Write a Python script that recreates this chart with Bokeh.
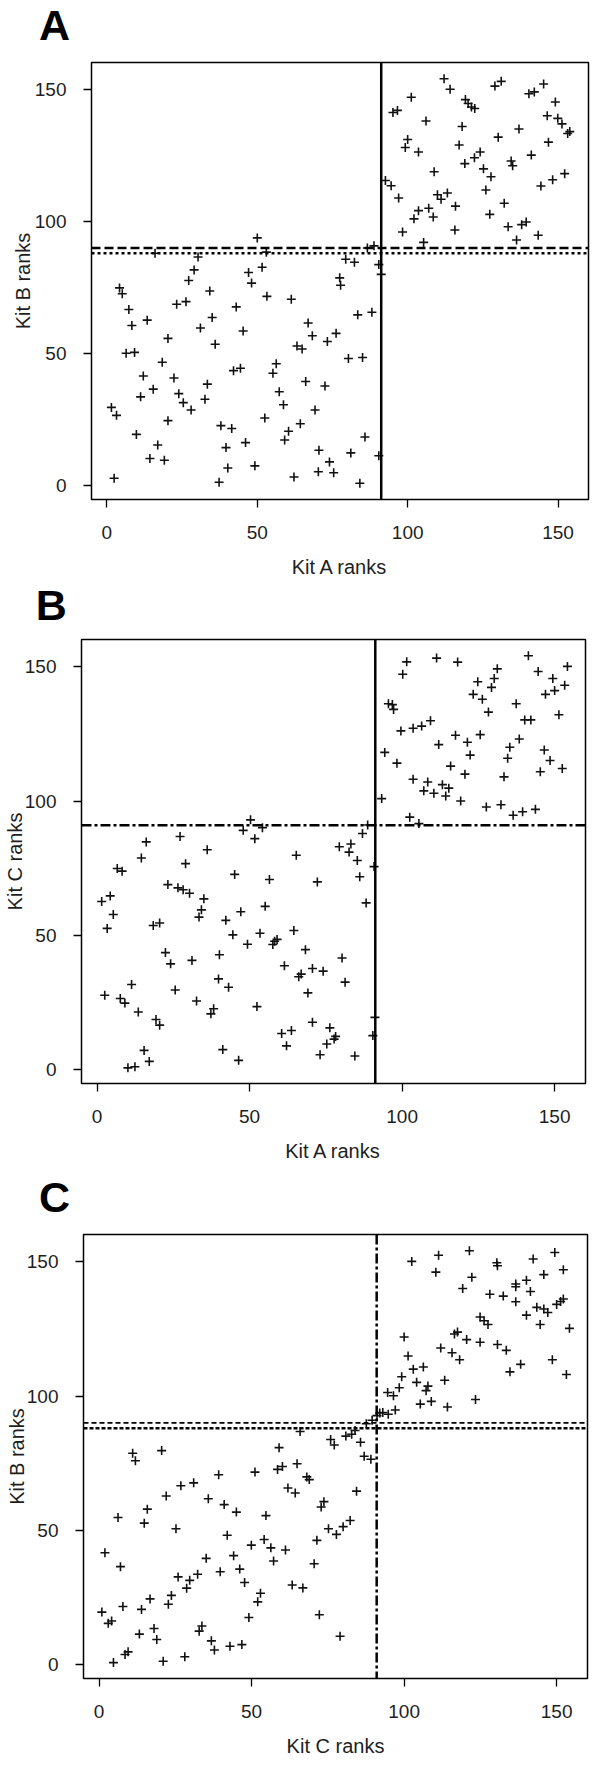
from bokeh.plotting import figure
from bokeh.models import Span, Label, FixedTicker
from bokeh.embed import file_html
from bokeh.resources import INLINE

FONT = "Liberation Sans"
TEXT = "#1e1e1e"
tick_values = [0, 50, 100, 150]
axis_range = (-5.12, 160.12)

# cut-off ranks
kitA_cut = 91.2
kitC_cut = 91.0
kitB_cut_high = 90.0
kitB_cut_low = 88.0

# ---- Panel A: Kit A ranks (x) vs Kit B ranks (y)
a_x = [1.5, 3.2, 2.4, 4.2, 5.1, 7.3, 8.3, 6.4, 9.2, 9.8,
       12.1, 11.2, 13.4, 15.4, 14.3, 16.9, 19.1, 16.0, 18.4, 20.3,
       22.3, 20.3, 23.9, 25.4, 23.2, 26.3, 27.2, 29.0, 30.3, 28.0,
       31.1, 32.6, 33.4, 34.2, 35.0, 36.0, 37.9, 37.3, 39.6, 40.2,
       41.5, 42.1, 44.4, 43.0, 45.3, 46.1, 47.1, 48.1, 49.2, 50.0,
       51.6, 53.0, 52.5, 53.2, 56.3, 55.2, 57.3, 58.7, 60.4, 59.1,
       61.3, 62.2, 63.2, 64.9, 64.3, 66.1, 66.9, 68.3, 69.2, 70.5,
       70.3, 72.5, 73.3, 74.0, 75.4, 76.2, 77.4, 77.7, 79.4, 82.3,
       80.3, 81.1, 83.4, 85.0, 84.1, 85.8, 88.1, 86.6, 88.8, 90.4,
       90.4, 91.2,
       92.6, 94.5, 95.1, 96.6, 97.0, 98.3, 99.2, 100.0, 101.2, 102.1,
       103.6, 103.6, 105.3, 106.1, 107.0, 108.5, 108.8, 109.9, 111.1, 113.2,
       112.1, 114.1, 115.9, 115.7, 117.1, 118.1, 119.0, 119.2, 120.1, 121.2,
       122.3, 122.2, 124.1, 125.2, 126.0, 127.7, 127.3, 129.0, 131.1, 130.1,
       132.1, 133.4, 134.4, 134.9, 136.2, 137.0, 137.9, 139.4, 140.3, 142.1,
       141.1, 143.4, 144.3, 145.2, 146.4, 146.8, 148.2, 149.1, 149.9, 151.3,
       152.2, 153.2, 153.9]
a_y = [29.7, 26.7, 2.9, 74.9, 72.7, 66.7, 60.7, 50.2, 50.5, 19.5,
       41.6, 33.7, 62.7, 36.6, 10.4, 15.5, 9.7, 88.0, 46.8, 55.8,
       40.8, 24.7, 34.9, 31.5, 68.7, 69.7, 77.7, 81.7, 86.6, 28.7,
       59.7, 32.8, 38.5, 73.7, 63.7, 53.6, 22.8, 1.4, 14.5, 6.8,
       21.7, 43.6, 44.5, 67.7, 58.6, 16.4, 80.7, 76.7, 7.6, 93.8,
       82.7, 88.4, 25.7, 71.7, 46.2, 42.6, 35.6, 30.7, 20.7, 17.4,
       70.6, 3.4, 52.9, 51.8, 23.5, 39.5, 61.6, 56.8, 28.7, 13.5,
       5.4, 37.8, 54.6, 9.1, 5.0, 57.7, 78.7, 75.9, 85.7, 84.6,
       48.2, 12.5, 64.7, 48.6, 1.0, 18.5, 65.7, 90.0, 90.8, 11.4,
       83.7, 80.0,
       115.5, 113.5, 141.2, 142.0, 108.9, 96.0, 128.0, 131.0, 147.0, 101.0,
       104.1, 126.3, 92.1, 138.0, 105.0, 101.7, 118.8, 110.1, 108.4, 110.8,
       154.0, 150.0, 105.8, 96.8, 128.9, 135.9, 121.9, 146.1, 144.6, 143.3,
       142.7, 124.1, 126.3, 119.9, 111.9, 116.9, 102.7, 151.2, 153.0, 131.9,
       106.9, 98.0, 122.9, 121.1, 93.0, 135.0, 98.8, 99.8, 148.3, 149.0,
       125.1, 94.8, 113.4, 152.0, 140.0, 130.0, 115.8, 145.2, 139.0, 136.9,
       118.1, 133.3, 134.0]

# ---- Panel B: Kit A ranks (x) vs Kit C ranks (y)
b_x = [1.5, 4.3, 5.3, 3.3, 2.5, 6.6, 8.2, 7.6, 9.1, 10.1,
       12.4, 11.3, 13.5, 14.5, 16.1, 15.4, 17.1, 18.4, 20.5, 19.3,
       20.5, 22.4, 24.1, 23.2, 25.6, 27.2, 26.5, 28.2, 30.3, 29.0,
       31.1, 32.6, 33.4, 34.2, 35.0, 36.1, 37.3, 38.2, 39.8, 40.1,
       41.2, 42.2, 43.1, 44.5, 45.1, 46.4, 47.1, 47.9, 49.3, 50.3,
       51.7, 54.2, 52.4, 53.4, 55.1, 56.5, 57.6, 58.2, 59.0, 60.5,
       61.4, 62.1, 63.7, 64.5, 65.3, 66.1, 66.9, 68.3, 69.1, 70.6,
       70.6, 72.2, 73.1, 74.1, 75.3, 76.3, 77.7, 78.2, 79.4, 80.3,
       81.3, 82.6, 83.2, 85.3, 86.1, 84.5, 87.0, 88.2, 88.7, 90.4,
       90.8, 91.1,
       93.3, 94.3, 95.5, 96.8, 97.2, 98.3, 99.6, 100.2, 101.5, 102.5,
       103.6, 103.6, 105.5, 106.4, 107.1, 108.4, 109.3, 110.4, 111.3, 112.0,
       113.2, 114.3, 115.3, 115.9, 117.5, 118.2, 119.2, 120.6, 121.4, 122.3,
       123.3, 124.8, 125.6, 126.3, 127.6, 128.3, 129.3, 130.2, 131.2, 132.4,
       133.4, 134.6, 135.3, 136.4, 137.4, 138.4, 139.5, 140.2, 141.4, 142.2,
       143.7, 144.6, 145.3, 146.6, 147.0, 148.5, 149.4, 150.0, 151.4, 152.5,
       153.3, 154.2]
b_y = [62.6, 64.7, 57.8, 52.6, 27.7, 74.9, 73.9, 26.5, 24.8, 0.7,
       1.1, 31.7, 21.5, 78.8, 84.8, 7.2, 3.1, 53.7, 54.6, 18.7,
       16.6, 43.6, 39.4, 68.9, 29.7, 86.8, 67.7, 67.0, 65.7, 76.7,
       40.7, 25.6, 56.8, 59.5, 63.6, 81.9, 20.8, 22.7, 33.8, 42.8,
       7.5, 55.6, 30.7, 50.2, 72.7, 3.5, 58.8, 89.1, 46.7, 93.0,
       86.0, 90.1, 23.5, 50.8, 60.8, 70.8, 46.6, 47.8, 48.5, 13.5,
       38.7, 8.9, 14.6, 51.8, 79.8, 34.6, 35.6, 44.7, 28.6, 17.7,
       37.7, 69.9, 5.6, 36.7, 9.6, 15.6, 11.4, 12.4, 83.0, 41.6,
       32.6, 81.0, 84.0, 77.9, 71.8, 5.1, 87.9, 62.1, 91.1, 12.7,
       75.6, 19.5,
       100.9, 118.1, 136.2, 135.9, 134.1, 114.1, 126.1, 147.2, 151.8, 94.0,
       108.1, 127.1, 91.6, 127.9, 103.8, 107.1, 129.9, 102.9, 153.2, 121.0,
       106.1, 101.9, 104.8, 113.0, 124.5, 151.7, 100.0, 110.0, 121.9, 117.1,
       139.7, 144.4, 124.7, 137.9, 97.8, 133.1, 142.3, 145.6, 149.2, 98.6,
       109.0, 115.9, 120.0, 94.7, 136.2, 123.1, 96.0, 130.2, 154.1, 130.2,
       96.9, 148.2, 110.9, 119.0, 139.7, 115.1, 145.6, 141.1, 132.1, 112.1,
       143.1, 150.1]

# ---- Panel C: Kit C ranks (x) vs Kit B ranks (y)
c_x = [0.9, 1.9, 3.0, 4.1, 4.7, 6.2, 7.0, 7.8, 8.5, 9.5,
       11.0, 11.9, 13.2, 13.9, 14.8, 15.8, 16.7, 18.0, 18.9, 20.5,
       21.0, 22.0, 22.7, 23.7, 25.2, 25.9, 26.8, 28.1, 28.7, 29.7,
       31.0, 32.3, 32.8, 33.7, 35.1, 35.8, 36.8, 37.8, 39.2, 39.7,
       41.0, 42.0, 42.9, 44.1, 45.0, 46.1, 46.8, 47.7, 49.1, 49.9,
       51.1, 52.0, 52.9, 54.1, 54.7, 56.3, 57.2, 58.5, 59.0, 60.1,
       61.1, 61.9, 63.3, 64.3, 64.9, 65.9, 66.8, 68.1, 68.9, 70.5,
       71.4, 72.2, 72.8, 73.7, 75.2, 75.9, 77.1, 77.8, 79.0, 80.0,
       80.9, 82.3, 82.8, 83.9, 84.4, 85.7, 86.9, 87.6, 89.1, 89.5,
       91.1,
       92.0, 93.0, 94.8, 94.6, 96.5, 97.1, 98.4, 99.2, 100.0, 101.3,
       102.5, 103.0, 104.1, 105.3, 106.3, 107.2, 107.8, 108.9, 110.4, 111.3,
       112.0, 113.3, 114.2, 115.7, 116.5, 117.5, 118.2, 119.2, 120.5, 121.4,
       122.2, 123.4, 124.9, 124.9, 126.2, 127.5, 128.1, 130.4, 130.6, 130.6,
       132.5, 133.5, 134.7, 136.6, 136.6, 136.6, 138.2, 140.1, 140.1, 141.4,
       142.3, 143.5, 144.6, 145.8, 145.8, 147.1, 148.6, 149.4, 150.0, 151.3,
       152.2, 152.2, 153.2, 154.2]
c_y = [19.6, 41.7, 15.4, 16.3, 0.8, 54.8, 36.5, 21.7, 3.8, 4.8,
       78.7, 75.9, 11.4, 20.6, 52.7, 57.9, 24.5, 13.5, 9.4, 79.7,
       1.3, 62.8, 22.5, 25.8, 50.6, 32.7, 66.6, 3.0, 28.5, 31.4,
       67.7, 33.7, 12.5, 14.4, 39.6, 61.8, 8.9, 5.5, 70.7, 34.6,
       59.6, 48.2, 6.9, 40.6, 56.8, 35.6, 7.5, 30.6, 17.6, 44.5,
       71.7, 23.4, 26.6, 46.6, 55.5, 43.5, 38.6, 72.7, 80.8, 73.8,
       42.7, 65.8, 29.7, 63.9, 74.8, 86.8, 28.6, 69.9, 68.9, 37.6,
       46.3, 18.6, 58.7, 60.7, 50.6, 83.8, 81.8, 48.5, 10.6, 51.4,
       85.1, 53.7, 85.8, 87.2, 64.6, 82.8, 77.6, 89.7, 76.5, 91.0,
       92.7,
       93.7, 93.9, 93.2, 101.3, 100.1, 94.8, 103.1, 107.2, 122.0, 114.9,
       150.1, 110.0, 105.1, 97.0, 110.8, 102.0, 103.7, 98.0, 146.1, 152.4,
       117.9, 105.9, 95.9, 116.1, 123.1, 123.8, 113.5, 140.0, 121.0, 154.1,
       144.2, 98.7, 120.0, 129.4, 128.0, 126.6, 137.9, 149.6, 148.5, 119.2,
       137.2, 117.0, 109.0, 141.7, 140.7, 135.1, 111.8, 143.1, 130.1, 138.9,
       151.0, 133.0, 126.6, 145.2, 132.4, 131.1, 113.5, 153.4, 134.1, 135.2,
       136.1, 147.0, 108.0, 125.2]


def make_letter(letter, height, x, middle):
    """A strip holding the bold panel letter (x from left, vertical middle from bottom, px)."""
    p = figure(width=600, height=height, x_axis_location=None, y_axis_location=None,
               min_border=0, output_backend="svg", toolbar_location=None,
               background_fill_color="white", border_fill_color="white")
    p.grid.visible = False
    p.outline_line_color = None
    p.add_layout(Label(x=x, y=middle, x_units="screen", y_units="screen",
                       text=letter, text_font=FONT, text_font_size="43px",
                       text_font_style="bold", text_color="black",
                       text_baseline="middle", text_align="left"))
    return p


def make_panel(xs, ys, xlabel, ylabel, height, left, right, top, bottom, ylab_standoff):
    p = figure(width=600, height=height, x_range=axis_range, y_range=axis_range,
               min_border_left=left, min_border_right=right,
               min_border_top=top, min_border_bottom=bottom,
               output_backend="svg", toolbar_location=None,
               background_fill_color="white", border_fill_color="white")
    p.grid.visible = False
    p.outline_line_color = "black"
    p.outline_line_width = 1.5
    p.xaxis.axis_label = xlabel
    p.yaxis.axis_label = ylabel
    for ax in list(p.xaxis) + list(p.yaxis):
        ax.ticker = FixedTicker(ticks=tick_values)
        ax.axis_line_color = None
        ax.major_tick_in = 0
        ax.major_tick_out = 8
        ax.major_tick_line_width = 1.3
        ax.major_tick_line_color = "black"
        ax.minor_tick_line_color = None
        ax.major_label_text_font = FONT
        ax.major_label_text_font_size = "19px"
        ax.major_label_text_color = TEXT
        ax.axis_label_text_font = FONT
        ax.axis_label_text_font_size = "20px"
        ax.axis_label_text_font_style = "normal"
        ax.axis_label_text_color = TEXT
    p.xaxis.major_label_standoff = 18
    p.xaxis.axis_label_standoff = 14
    p.yaxis.major_label_standoff = 17
    p.yaxis.axis_label_standoff = ylab_standoff
    p.scatter(xs, ys, marker="cross", size=9, line_color="#111111", line_width=1.6)
    return p


la = make_letter("A", 50, 38.5, 25.5)
pa = make_panel(a_x, a_y, "Kit A ranks", "Kit B ranks", 530, 91, 12, 12, 80, -2)
pa.add_layout(Span(location=kitA_cut, dimension="height", line_color="black", line_width=2.5))
pa.add_layout(Span(location=kitB_cut_high, dimension="width", line_color="black", line_width=2.5, line_dash="9 4"))
pa.add_layout(Span(location=kitB_cut_low, dimension="width", line_color="black", line_width=2.5, line_dash="3 3"))

lb = make_letter("B", 50, 35.3, 25.5)
pb = make_panel(b_x, b_y, "Kit A ranks", "Kit C ranks", 542, 81, 15, 9, 89, -4)
pb.add_layout(Span(location=kitA_cut, dimension="height", line_color="black", line_width=2.5))
pb.add_layout(Span(location=kitC_cut, dimension="width", line_color="black", line_width=2.5, line_dash="10 3 3 3"))

lc = make_letter("C", 51, 38.4, 26.4)
pc = make_panel(c_x, c_y, "Kit C ranks", "Kit B ranks", 541, 83, 13, 11, 86, -4)
pc.add_layout(Span(location=kitC_cut, dimension="height", line_color="black", line_width=2.5, line_dash="10 3 3 3"))
pc.add_layout(Span(location=kitB_cut_high, dimension="width", line_color="black", line_width=1.6, line_dash="5 3"))
pc.add_layout(Span(location=kitB_cut_low, dimension="width", line_color="black", line_width=2.5, line_dash="4 2"))

# separate roots, stacked top to bottom, so each panel keeps its own frame position
open("out.html", "w").write(file_html([la, pa, lb, pb, lc, pc], INLINE))
